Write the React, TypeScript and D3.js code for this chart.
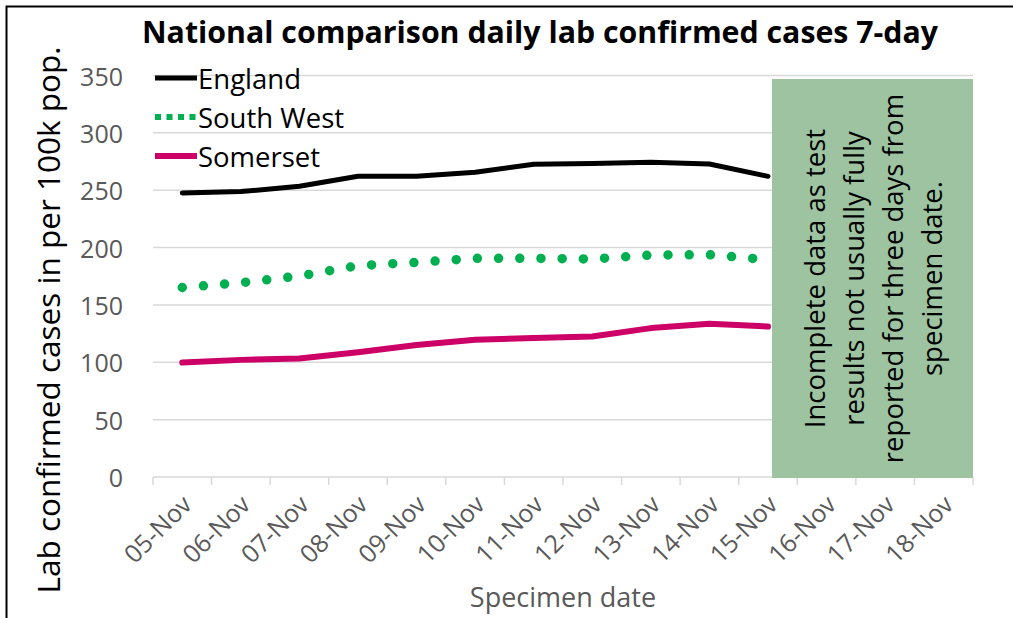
import React from "react";
import * as d3 from "d3";

const categories = ["05-Nov","06-Nov","07-Nov","08-Nov","09-Nov","10-Nov","11-Nov","12-Nov","13-Nov","14-Nov","15-Nov","16-Nov","17-Nov","18-Nov"];
const england: (number | null)[] = [247.6, 248.8, 253.4, 262.1, 262.1, 265.6, 272.6, 273.2, 274.3, 272.9, 262.1, null, null, null];
const southWest: (number | null)[] = [165.2, 169.3, 175.2, 184.2, 187.1, 190.6, 190.6, 190.0, 193.5, 193.8, 189.4, null, null, null];
const somerset: (number | null)[] = [99.8, 102.1, 103.3, 108.8, 115.0, 119.6, 121.1, 122.5, 129.8, 133.5, 131.2, null, null, null];
const yTicks = [0, 50, 100, 150, 200, 250, 300, 350];
const noteLines = ["Incomplete data as test", "results not usually fully", "reported for three days from", "specimen date."];

const title = "National comparison daily lab confirmed cases 7-day";
const yTitle = "Lab confirmed cases in per 100k pop.";
const xTitle = "Specimen date";

const W = 1013, H = 618;
const plot = { left: 153, right: 973, top: 75.5, bottom: 477 };

export default function App() {
  const x = d3.scaleBand<string>().domain(categories).range([plot.left, plot.right]).padding(0);
  const y = d3.scaleLinear().domain([0, 350]).range([plot.bottom, plot.top]);
  const cx = (c: string) => (x(c) as number) + x.bandwidth() / 2;

  const line = d3
    .line<number | null>()
    .defined((d) => d !== null)
    .x((_, i) => cx(categories[i]))
    .y((d) => y(d as number));

  const gray = "#595959";
  const grid = "#D9D9D9";
  const font = "'Open Sans', 'Noto Sans', sans-serif";

  const boxX0 = cx("15-Nov") + 4;
  const boxX1 = plot.right;
  const boxY0 = y(350) + 3.5;
  const boxY1 = y(0) + 1;
  const boxCx = (boxX0 + boxX1) / 2;
  const boxCy = (boxY0 + boxY1) / 2;
  const lineGap = 39;

  const series = [
    { name: "England", data: england, color: "#000000", width: 5, dash: null as string | null },
    { name: "South West", data: southWest, color: "#00B050", width: 9.5, dash: "0 21.2" },
    { name: "Somerset", data: somerset, color: "#CC0066", width: 6, dash: null as string | null },
  ];

  return (
    <svg width={W} height={H} style={{ position: "absolute", left: 0, top: 0, background: "#fff" }} fontFamily={font}>
      <rect x={0} y={0} width={W} height={H} fill="#fff" />
      <rect x={6.5} y={6.5} width={W + 50} height={H + 50} fill="none" stroke="#000" strokeWidth={2} />

      <text
        x={142}
        y={43}
        fontWeight={700}
        fontSize={30}
        fill="#000"
        textLength={796}
        lengthAdjust="spacingAndGlyphs"
      >
        {title}
      </text>

      {yTicks.map((t) => (
        <line key={t} x1={plot.left} x2={plot.right} y1={y(t)} y2={y(t)} stroke={grid} strokeWidth={1.5} />
      ))}
      {[...categories.map((c) => x(c) as number), plot.right].map((tx, i) => (
        <line key={i} x1={tx} x2={tx} y1={y(0)} y2={y(0) + 8} stroke={grid} strokeWidth={1.5} />
      ))}

      {yTicks.map((t) => (
        <text key={t} x={123} y={y(t)} textAnchor="end" dominantBaseline="central" fontSize={25} fill={gray}>
          {t}
        </text>
      ))}

      {categories.map((c) => (
        <text
          key={c}
          transform={`translate(${cx(c) + 4},${y(0) + 22}) rotate(-45)`}
          textAnchor="end"
          dominantBaseline="central"
          fontSize={25}
          fill={gray}
        >
          {c}
        </text>
      ))}

      <text x={563} y={607} textAnchor="middle" fontSize={27} fill={gray}>
        {xTitle}
      </text>
      <text transform={`translate(60,${320}) rotate(-90)`} textAnchor="middle" fontSize={31.5} fill="#000">
        {yTitle}
      </text>

      {series.map((s) => (
        <path
          key={s.name}
          d={line(s.data) || ""}
          fill="none"
          stroke={s.color}
          strokeWidth={s.width}
          strokeLinecap="round"
          strokeLinejoin="round"
          strokeDasharray={s.dash || undefined}
        />
      ))}

      <rect x={boxX0} y={boxY0} width={boxX1 - boxX0} height={boxY1 - boxY0} fill="#9DC3A1" />
      {noteLines.map((l, i) => (
        <text
          key={i}
          transform={`translate(${boxCx + (i - (noteLines.length - 1) / 2) * lineGap},${boxCy}) rotate(-90)`}
          textAnchor="middle"
          dominantBaseline="central"
          fontSize={27.5}
          fill="#000"
        >
          {l}
        </text>
      ))}

      {series.map((s, i) => {
        const ly = 78 + i * 39;
        return (
          <g key={s.name}>
            {s.dash ? (
              <line x1={155} x2={197} y1={ly} y2={ly} stroke={s.color} strokeWidth={6} strokeDasharray="6 5.5" />
            ) : (
              <line x1={155} x2={197} y1={ly} y2={ly} stroke={s.color} strokeWidth={s.width} />
            )}
            <text x={198} y={ly} dominantBaseline="central" fontSize={27.5} fill="#000">
              {s.name}
            </text>
          </g>
        );
      })}
    </svg>
  );
}
